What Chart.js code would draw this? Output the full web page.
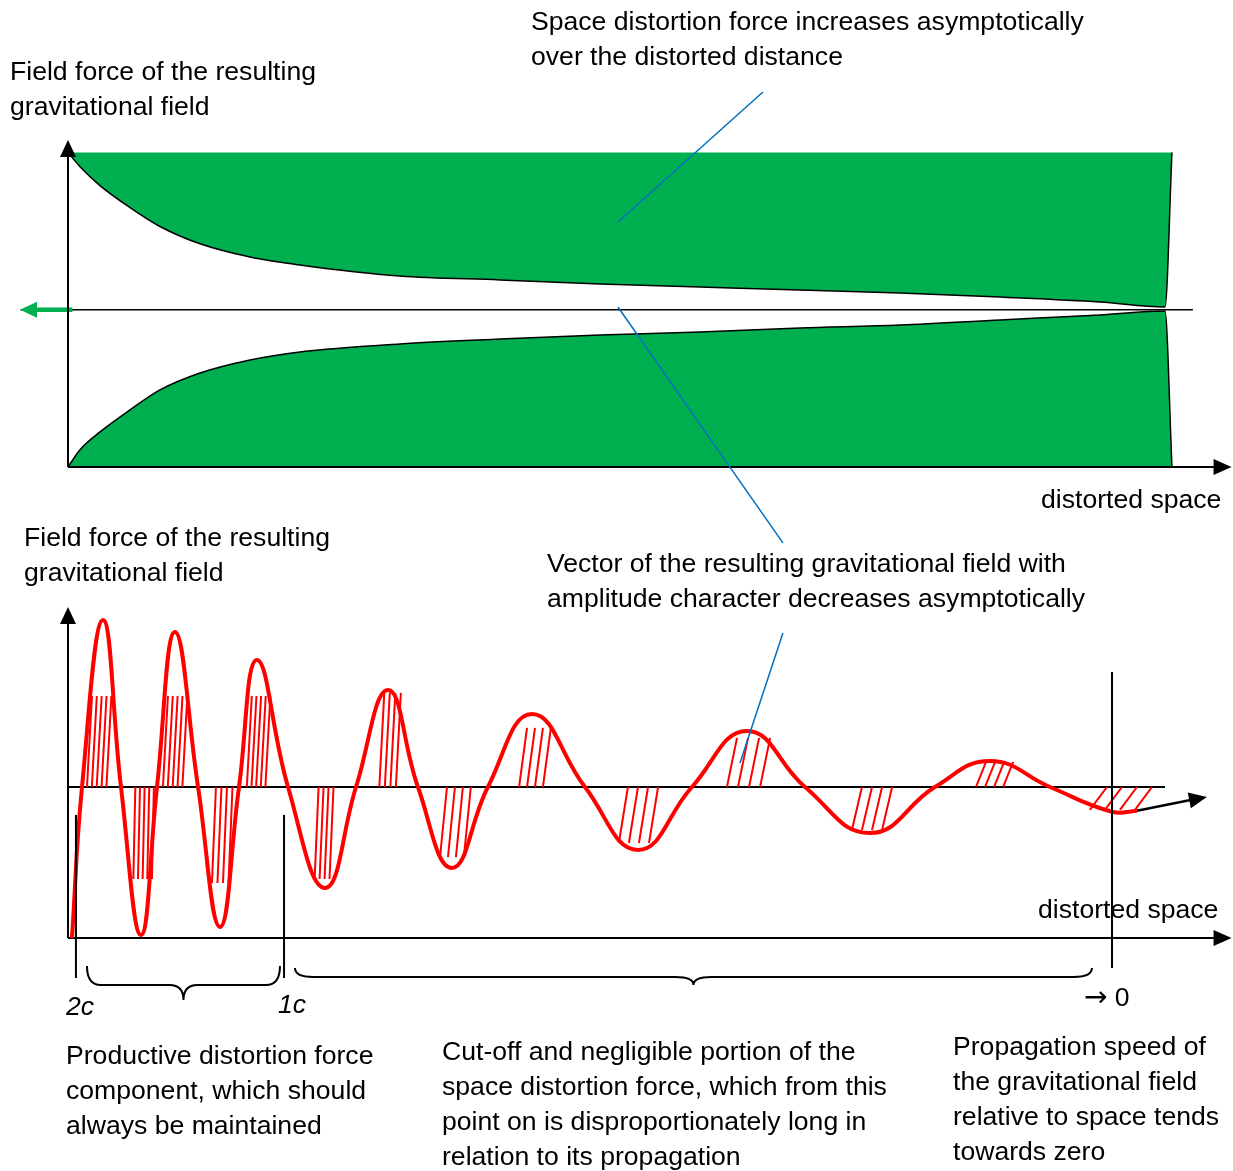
<!DOCTYPE html>
<html>
<head>
<meta charset="utf-8">
<script src="https://cdn.jsdelivr.net/npm/chart.js@4.4.0/dist/chart.umd.min.js"></script>
<style>
body{margin:0;background:#fff;font-family:"Liberation Sans",Arial,sans-serif;}
#page{position:relative;width:1233px;height:1171px;overflow:hidden;}
.box{position:absolute;}
.txt{position:absolute;font-size:26.6px;line-height:35px;color:#000;white-space:nowrap;}
.arr{font-family:"DejaVu Sans",sans-serif;font-size:28px;}
</style>
</head>
<body>
<div id="page">
  <div class="box" style="left:0;top:0;width:1233px;height:560px"><canvas id="topChart"></canvas></div>
  <div class="box" style="left:0;top:560px;width:1233px;height:611px"><canvas id="bottomChart"></canvas></div>

  <div class="txt" style="left:531px;top:4px">Space distortion force increases asymptotically<br>over the distorted distance</div>
  <div class="txt" style="left:10px;top:54px">Field force of the resulting<br>gravitational field</div>
  <div class="txt" style="left:1041px;top:482px">distorted space</div>
  <div class="txt" style="left:24px;top:520px">Field force of the resulting<br>gravitational field</div>
  <div class="txt" style="left:547px;top:546px">Vector of the resulting gravitational field with<br>amplitude character decreases asymptotically</div>
  <div class="txt" style="left:1038px;top:892px">distorted space</div>
  <div class="txt" style="left:66px;top:989px;font-style:italic">2c</div>
  <div class="txt" style="left:278px;top:987px;font-style:italic">1c</div>
  <div class="txt" style="left:1084px;top:979px"><span class="arr">&#x2192;</span> 0</div>
  <div class="txt" style="left:66px;top:1038px">Productive distortion force<br>component, which should<br>always be maintained</div>
  <div class="txt" style="left:442px;top:1034px">Cut-off and negligible portion of the<br>space distortion force, which from this<br>point on is disproportionately long in<br>relation to its propagation</div>
  <div class="txt" style="left:953px;top:1029px">Propagation speed of<br>the gravitational field<br>relative to space tends<br>towards zero</div>
</div>

<script>
// top chart: distortion force over distorted space
var spaceX     = [0, 1.09, 2.90, 5.62, 8.33, 11.96, 16.49, 21.01, 30.07, 39.13, 48.19, 57.25, 66.30, 75.36, 84.42, 93.48, 99.37, 100];
var upperForce = [1.0, 0.91, 0.79, 0.65, 0.53, 0.42, 0.336, 0.285, 0.215, 0.19, 0.164, 0.145, 0.126, 0.107, 0.081, 0.05, 0.018, 1.0];
var lowerForce = [-1.0, -0.89, -0.777, -0.637, -0.51, -0.402, -0.319, -0.268, -0.217, -0.186, -0.16, -0.141, -0.116, -0.097, -0.065, -0.033, -0.008, -1.0];

// bottom chart: resulting field vector (damped wave)
var waveX = [0.36, 1.27, 3.17, 4.80, 6.61, 8.06, 9.69, 11.78, 13.77, 15.49, 17.12, 19.93, 23.28, 26.09, 28.99, 31.70,
             34.78, 38.04, 42.03, 46.83, 51.63, 56.52, 61.50, 66.76, 72.64, 78.53, 83.51, 88.95, 94.57, 96.83];
var waveY = [-1.0, 0, 1.106, 0, -0.98, 0, 1.026, 0, -0.927, 0, 0.841, 0, -0.669, 0, 0.642, 0,
             -0.536, 0, 0.483, 0, -0.417, 0, 0.371, 0, -0.305, 0, 0.172, 0, -0.164, -0.157];

// hatching inside each lobe
var hatchStart = [1.72, 6.10, 8.60, 13.40, 16.20, 22.70, 28.20, 34.33, 40.86, 50.72, 59.69, 71.92, 82.25, 94.11];
var hatchLevel = [0.603, -0.609, 0.603, -0.636, 0.603, -0.609, 0.623, -0.464, 0.391, -0.371, 0.325, -0.285, 0.166, -0.152];
var hatchCount = [5, 5, 5, 4, 5, 4, 4, 4, 4, 4, 4, 4, 4, 4];
var hatchGap   = [0.44, 0.42, 0.44, 0.50, 0.42, 0.45, 0.50, 0.72, 0.72, 0.91, 1.0, 0.91, 0.82, 1.36];
var hatchSlant = [0.45, -0.18, 0.45, -0.36, 0.45, -0.36, 0.45, -0.63, 0.72, -0.82, 0.91, -0.91, 0.91, -1.54];

var green = '#00B050';
var blue = '#0070C0';
var red = '#FF0000';

function pt(chart, x, y){
  return [chart.scales.x.getPixelForValue(x), chart.scales.y.getPixelForValue(y)];
}
function seg(ctx, a, b, color, w){
  ctx.save();
  ctx.strokeStyle = color; ctx.lineWidth = w;
  ctx.beginPath(); ctx.moveTo(a[0], a[1]); ctx.lineTo(b[0], b[1]); ctx.stroke();
  ctx.restore();
}
function head(ctx, a, b, len, half, color){
  var ang = Math.atan2(b[1]-a[1], b[0]-a[0]);
  var bx = b[0]-len*Math.cos(ang), by = b[1]-len*Math.sin(ang);
  ctx.save();
  ctx.fillStyle = color;
  ctx.beginPath();
  ctx.moveTo(b[0], b[1]);
  ctx.lineTo(bx+half*Math.sin(ang), by-half*Math.cos(ang));
  ctx.lineTo(bx-half*Math.sin(ang), by+half*Math.cos(ang));
  ctx.closePath(); ctx.fill();
  ctx.restore();
}
function brace(ctx, x1, x2, yTop, yBot, yTip, r){
  var xm = (x1+x2)/2;
  ctx.save();
  ctx.strokeStyle = '#000'; ctx.lineWidth = 2;
  ctx.beginPath();
  ctx.moveTo(x1, yTop);
  ctx.quadraticCurveTo(x1, yBot, x1+r, yBot);
  ctx.lineTo(xm-r, yBot);
  ctx.quadraticCurveTo(xm, yBot, xm, yTip);
  ctx.quadraticCurveTo(xm, yBot, xm+r, yBot);
  ctx.lineTo(x2-r, yBot);
  ctx.quadraticCurveTo(x2, yBot, x2, yTop);
  ctx.stroke();
  ctx.restore();
}

var topDecor = {
  id: 'topDecor',
  afterDatasetsDraw: function(chart){
    var ctx = chart.ctx;
    // center line and green arrow
    seg(ctx, pt(chart, -4.3, 0), pt(chart, 101.9, 0), '#000', 1.5);
    var gs = pt(chart, 0.4, 0), ge = pt(chart, -4.35, 0);
    seg(ctx, gs, pt(chart, -3.0, 0), green, 4.5);
    head(ctx, gs, ge, 17, 8, green);
    // axes
    var o = pt(chart, 0, -1);
    seg(ctx, o, pt(chart, 0, 1.0), '#000', 2);
    head(ctx, o, pt(chart, 0, 1.08), 17, 8, '#000');
    seg(ctx, o, pt(chart, 104, -1), '#000', 2);
    head(ctx, o, pt(chart, 105.4, -1), 18, 8, '#000');
    // leader lines
    seg(ctx, pt(chart, 62.95, 1.385), pt(chart, 49.82, 0.558), blue, 1.5);
    seg(ctx, pt(chart, 49.82, 0.018), pt(chart, 64.76, -1.483), blue, 1.5);
  }
};

var bottomDecor = {
  id: 'bottomDecor',
  beforeDatasetsDraw: function(chart){
    var ctx = chart.ctx;
    // axes and zero line
    var o = pt(chart, 0, -1);
    seg(ctx, o, pt(chart, 0, 1.1), '#000', 2);
    head(ctx, o, pt(chart, 0, 1.192), 17, 8, '#000');
    seg(ctx, o, pt(chart, 104, -1), '#000', 2);
    head(ctx, o, pt(chart, 105.4, -1), 18, 8, '#000');
    seg(ctx, pt(chart, 0, 0), pt(chart, 99.37, 0), '#000', 2);
    // hatching
    for (var i = 0; i < hatchStart.length; i++) {
      for (var k = 0; k < hatchCount[i]; k++) {
        var x = hatchStart[i] + k*hatchGap[i];
        seg(ctx, pt(chart, x, 0), pt(chart, x + hatchSlant[i], hatchLevel[i]), red, 2);
      }
    }
  },
  afterDatasetsDraw: function(chart){
    var ctx = chart.ctx;
    // end arrow of the wave
    var a = pt(chart, 96.83, -0.157), b = pt(chart, 103.17, -0.066);
    seg(ctx, a, pt(chart, 101.8, -0.085), '#000', 2.5);
    head(ctx, a, b, 18, 8, '#000');
    // markers 2c, 1c, -> 0
    seg(ctx, pt(chart, 0.72, -0.185), pt(chart, 0.72, -1.265), '#000', 2);
    seg(ctx, pt(chart, 19.57, -0.185), pt(chart, 19.57, -1.265), '#000', 2);
    seg(ctx, pt(chart, 94.57, 0.762), pt(chart, 94.57, -1.199), '#000', 2);
    // braces
    var l1 = pt(chart, 1.72, -1.185), l2 = pt(chart, 19.2, -1.311), lt = pt(chart, 0, -1.411);
    brace(ctx, l1[0], l2[0], l1[1], l2[1], lt[1], 14);
    var r1 = pt(chart, 20.56, -1.199), r2 = pt(chart, 92.75, -1.258), rt = pt(chart, 0, -1.311);
    brace(ctx, r1[0], r2[0], r1[1], r2[1], rt[1], 18);
    // leader line
    seg(ctx, pt(chart, 64.76, 1.02), pt(chart, 60.87, 0.159), blue, 1.5);
  }
};

function plainScales(xmin, xmax, ymin, ymax){
  return {
    x: { type: 'linear', min: xmin, max: xmax, display: false },
    y: { type: 'linear', min: ymin, max: ymax, display: false }
  };
}

new Chart(document.getElementById('topChart').getContext('2d'), {
  type: 'line',
  data: {
    datasets: [{
      label: 'upper',
      data: spaceX.map(function(x, i){ return {x: x, y: upperForce[i]}; }),
      borderColor: '#000',
      borderWidth: 1.5,
      backgroundColor: green,
      fill: {value: 1},
      pointRadius: 0,
      cubicInterpolationMode: 'monotone',
      clip: false
    }, {
      label: 'lower',
      data: spaceX.map(function(x, i){ return {x: x, y: lowerForce[i]}; }),
      borderColor: '#000',
      borderWidth: 1.5,
      backgroundColor: green,
      fill: {value: -1},
      pointRadius: 0,
      cubicInterpolationMode: 'monotone',
      clip: false
    }]
  },
  options: {
    responsive: true,
    maintainAspectRatio: false,
    animation: false,
    layout: { padding: { left: 20, right: 0, top: 140, bottom: 93 } },
    scales: plainScales(-4.348, 105.53, -1, 1.08),
    plugins: { legend: { display: false }, tooltip: { enabled: false } }
  },
  plugins: [topDecor]
});

new Chart(document.getElementById('bottomChart').getContext('2d'), {
  type: 'line',
  data: {
    datasets: [{
      label: 'vector',
      data: waveX.map(function(x, i){ return {x: x, y: waveY[i]}; }),
      borderColor: red,
      borderWidth: 4,
      fill: false,
      pointRadius: 0,
      tension: 0.45,
      clip: false
    }]
  },
  options: {
    responsive: true,
    maintainAspectRatio: false,
    animation: false,
    layout: { padding: { left: 20, right: 0, top: 47, bottom: 233 } },
    scales: plainScales(-4.348, 105.53, -1, 1.192),
    plugins: { legend: { display: false }, tooltip: { enabled: false } }
  },
  plugins: [bottomDecor]
});
</script>
</body>
</html>
